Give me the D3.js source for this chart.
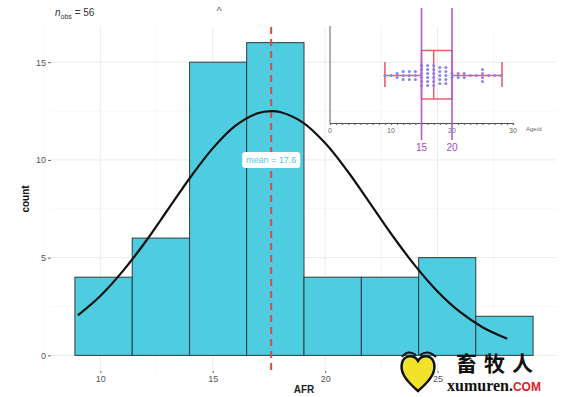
<!DOCTYPE html>
<html>
<head>
<meta charset="utf-8">
<script src="https://cdn.jsdelivr.net/npm/d3@7"></script>
<style>
  body { margin: 0; background: #fff; }
  svg { display: block; font-family: "Liberation Sans", Arial, sans-serif; }
</style>
</head>
<body>
<div id="wrapper"></div>
<script>
// histogram of AFR
const binEdges = [8.87, 11.42, 13.97, 16.51, 19.06, 21.61, 24.16, 26.70, 29.25]
const binCounts = [4, 6, 15, 16, 4, 4, 5, 2]
const meanAFR = 17.6
const nObs = 56

// fitted normal curve
const curveX = [9, 10, 11, 12, 13, 14, 15, 16, 17, 17.6, 18, 19, 20, 21, 22, 23, 24, 25, 26, 27, 28.1]
const curveY = [2.05, 3.04, 4.31, 5.8, 7.45, 9.1, 10.59, 11.74, 12.39, 12.5, 12.45, 11.92, 10.86, 9.42, 7.78, 6.12, 4.59, 3.27, 2.22, 1.44, 0.85]

const xTicks = [10, 15, 20, 25]
const yTicks = [0, 5, 10, 15]

// inset boxplot of age (days)
const insetTicks = [0, 10, 20, 30]
const boxStats = { min: 9, q1: 15, median: 17, q3: 20, max: 28.2 }
const dotValues = [9, 10, 11, 12, 13, 14, 15, 16, 17, 18, 19, 20, 21, 22, 23, 24, 25, 26, 27, 28]
const dotCounts = [1, 1, 2, 3, 3, 3, 6, 6, 6, 5, 5, 2, 2, 2, 1, 1, 4, 1, 1, 1]
const markLines = [15, 20]

const width = 572
const height = 397
const panel = { left: 52, right: 556, top: 27, bottom: 371 }

const svg = d3.select("#wrapper").append("svg")
  .attr("width", width)
  .attr("height", height)

const xPad = (binEdges[binEdges.length - 1] - binEdges[0]) * 0.05
const xScale = d3.scaleLinear()
  .domain([binEdges[0] - xPad, binEdges[binEdges.length - 1] + xPad])
  .range([panel.left, panel.right])
const yMax = d3.max(binCounts)
const yScale = d3.scaleLinear()
  .domain([-yMax * 0.05, yMax * 1.05])
  .range([panel.bottom, panel.top])

// grid
const grid = svg.append("g")
const xMinor = d3.range(7.5, 31, 5)
const yMinor = d3.range(2.5, 17, 5)
grid.selectAll(".xminor").data(xMinor).enter().append("line")
  .attr("x1", d => xScale(d)).attr("x2", d => xScale(d))
  .attr("y1", panel.top).attr("y2", panel.bottom)
  .attr("stroke", "#f2f2f2").attr("stroke-width", 0.6)
grid.selectAll(".yminor").data(yMinor).enter().append("line")
  .attr("x1", panel.left).attr("x2", panel.right)
  .attr("y1", d => yScale(d)).attr("y2", d => yScale(d))
  .attr("stroke", "#f2f2f2").attr("stroke-width", 0.6)
grid.selectAll(".xmajor").data(xTicks).enter().append("line")
  .attr("x1", d => xScale(d)).attr("x2", d => xScale(d))
  .attr("y1", panel.top).attr("y2", panel.bottom)
  .attr("stroke", "#ebebeb").attr("stroke-width", 1)
grid.selectAll(".ymajor").data(yTicks).enter().append("line")
  .attr("x1", panel.left).attr("x2", panel.right)
  .attr("y1", d => yScale(d)).attr("y2", d => yScale(d))
  .attr("stroke", "#ebebeb").attr("stroke-width", 1)

// bars
svg.append("g").selectAll("rect")
  .data(binCounts)
  .enter().append("rect")
  .attr("x", (d, i) => xScale(binEdges[i]))
  .attr("width", (d, i) => xScale(binEdges[i + 1]) - xScale(binEdges[i]))
  .attr("y", d => yScale(d))
  .attr("height", d => yScale(0) - yScale(d))
  .attr("fill", "#4ecde0")
  .attr("stroke", "#2f3b3f")
  .attr("stroke-width", 1)

// mean line
svg.append("line")
  .attr("x1", xScale(meanAFR)).attr("x2", xScale(meanAFR))
  .attr("y1", panel.top).attr("y2", panel.bottom)
  .attr("stroke", "#e0473f")
  .attr("stroke-width", 2)
  .attr("stroke-dasharray", "7,5")

// normal curve
const curveData = curveX.map((x, i) => ({ x, y: curveY[i] }))
const lineGenerator = d3.line()
  .x(d => xScale(d.x))
  .y(d => yScale(d.y))
  .curve(d3.curveCatmullRom)
svg.append("path")
  .attr("d", lineGenerator(curveData))
  .attr("fill", "none")
  .attr("stroke", "#111")
  .attr("stroke-width", 2.2)

// mean label
const lab = svg.append("g")
  .attr("transform", `translate(${xScale(meanAFR)},${yScale(10)})`)
lab.append("rect")
  .attr("x", -29).attr("y", -8)
  .attr("width", 58).attr("height", 16)
  .attr("rx", 3)
  .attr("fill", "#fff")
lab.append("text")
  .attr("text-anchor", "middle")
  .attr("dy", "0.35em")
  .attr("fill", "#4ecde0")
  .style("font-size", "9px")
  .text(`mean = ${meanAFR}`)

// axes
const yAxis = svg.append("g")
  .attr("transform", `translate(${panel.left - 1},0)`)
  .call(d3.axisLeft(yScale).tickValues(yTicks).tickSize(3).tickPadding(2))
yAxis.select(".domain").remove()
yAxis.selectAll("line").attr("stroke", "#666")
yAxis.selectAll("text").attr("fill", "#555").style("font-size", "9px")

const xAxis = svg.append("g")
  .attr("transform", `translate(0,${panel.bottom})`)
  .call(d3.axisBottom(xScale).tickValues(xTicks).tickSize(2).tickPadding(3))
xAxis.select(".domain").remove()
xAxis.selectAll("line").attr("stroke", "#666")
xAxis.selectAll("text").attr("fill", "#555").style("font-size", "9px")

svg.append("text")
  .attr("x", (panel.left + panel.right) / 2)
  .attr("y", 393)
  .attr("text-anchor", "middle")
  .attr("font-weight", "bold")
  .attr("fill", "#222")
  .style("font-size", "10px")
  .text("AFR")

svg.append("text")
  .attr("transform", `translate(29,${(panel.top + panel.bottom) / 2}) rotate(-90)`)
  .attr("text-anchor", "middle")
  .attr("font-weight", "bold")
  .attr("fill", "#111")
  .style("font-size", "10px")
  .text("count")

// subtitle
const sub = svg.append("text")
  .attr("x", 55).attr("y", 16)
  .attr("fill", "#333")
  .style("font-size", "10px")
sub.append("tspan").attr("font-style", "italic").text("n")
sub.append("tspan").attr("dy", 3).style("font-size", "7px").text("obs")
sub.append("tspan").attr("dy", -3).text(` = ${nObs}`)

svg.append("text")
  .attr("x", 219).attr("y", 15)
  .attr("text-anchor", "middle")
  .attr("fill", "#666")
  .style("font-size", "11px")
  .text("^")

// inset
const inset = svg.append("g")
const ix = d3.scaleLinear().domain([0, 30]).range([330, 513])
const insetAxisY = 123
const rowY = 75.5

inset.append("line")
  .attr("x1", ix(0)).attr("x2", ix(0))
  .attr("y1", 26).attr("y2", insetAxisY)
  .attr("stroke", "#8c8c8c").attr("stroke-width", 1.4)

const insetAxis = inset.append("g")
  .attr("transform", `translate(0,${insetAxisY})`)
  .call(d3.axisBottom(ix).ticks(30).tickSize(2).tickFormat(""))
insetAxis.select(".domain").attr("stroke", "#555").attr("stroke-width", 1.2)
insetAxis.selectAll("line").attr("stroke", "#555")
inset.append("g").selectAll("text")
  .data(insetTicks).enter().append("text")
  .attr("x", d => ix(d)).attr("y", 133)
  .attr("text-anchor", "middle")
  .attr("fill", "#666")
  .style("font-size", "7px")
  .text(d => d)
inset.append("text")
  .attr("x", 526).attr("y", 131)
  .attr("fill", "#666")
  .style("font-size", "6px")
  .text("Age/d")

// box
const boxColor = "#e8606a"
inset.append("line")
  .attr("x1", ix(boxStats.min)).attr("x2", ix(boxStats.q1))
  .attr("y1", rowY).attr("y2", rowY)
  .attr("stroke", boxColor).attr("stroke-width", 1.6)
inset.append("line")
  .attr("x1", ix(boxStats.q3)).attr("x2", ix(boxStats.max))
  .attr("y1", rowY).attr("y2", rowY)
  .attr("stroke", boxColor).attr("stroke-width", 1.6)
inset.selectAll(".cap").data([boxStats.min, boxStats.max]).enter().append("line")
  .attr("x1", d => ix(d)).attr("x2", d => ix(d))
  .attr("y1", 62).attr("y2", 87)
  .attr("stroke", boxColor).attr("stroke-width", 1.6)
inset.append("rect")
  .attr("x", ix(boxStats.q1)).attr("y", 50.5)
  .attr("width", ix(boxStats.q3) - ix(boxStats.q1))
  .attr("height", 48.5)
  .attr("fill", "none")
  .attr("stroke", boxColor).attr("stroke-width", 1.5)
inset.append("line")
  .attr("x1", ix(boxStats.median)).attr("x2", ix(boxStats.median))
  .attr("y1", 50.5).attr("y2", 99)
  .attr("stroke", boxColor).attr("stroke-width", 1.5)

// dots
const dots = []
dotValues.forEach((v, i) => {
  const n = dotCounts[i]
  for (let k = 0; k < n; k++) {
    dots.push({ v, off: k - (n - 1) / 2 })
  }
})
inset.append("g").selectAll("circle")
  .data(dots).enter().append("circle")
  .attr("cx", d => ix(d.v))
  .attr("cy", d => rowY + d.off * 4)
  .attr("r", 1.5)
  .attr("fill", "#8585f2")

// purple marker lines
const purple = "#b45ad8"
inset.selectAll(".mark").data(markLines).enter().append("line")
  .attr("x1", d => ix(d)).attr("x2", d => ix(d))
  .attr("y1", 8).attr("y2", 140)
  .attr("stroke", purple).attr("stroke-width", 1.6)
inset.selectAll(".marklab").data(markLines).enter().append("text")
  .attr("x", d => ix(d)).attr("y", 151)
  .attr("text-anchor", "middle")
  .attr("fill", "#a64ac9")
  .style("font-size", "10px")
  .text(d => d)

// watermark
const wm = svg.append("g")
wm.append("path")
  .attr("d", "M418,391 C404,379 400,371 402,363 C404,355 414,354 418,361 C422,354 432,355 434,363 C436,371 432,379 418,391 Z")
  .attr("fill", "#f2e22a")
  .attr("stroke", "#111")
  .attr("stroke-width", 2.5)
wm.append("path")
  .attr("d", "M402,357 Q408,349 416,355 M420,355 Q428,349 436,357")
  .attr("fill", "none")
  .attr("stroke", "#111")
  .attr("stroke-width", 2)
wm.append("text")
  .attr("x", 456).attr("y", 371)
  .attr("fill", "#111")
  .attr("font-family", "Noto Sans CJK SC")
  .attr("font-weight", "bold")
  .attr("letter-spacing", 7)
  .style("font-size", "21px")
  .text("畜牧人")
const wt = wm.append("text")
  .attr("x", 447).attr("y", 391)
  .attr("font-family", "Liberation Serif")
  .attr("font-weight", "bold")
  .style("font-size", "16px")
wt.append("tspan").attr("fill", "#111").text("xumuren.")
wt.append("tspan").attr("fill", "#e0202a")
  .attr("font-family", "Liberation Sans")
  .style("font-size", "12px").text("COM")
</script>
</body>
</html>
